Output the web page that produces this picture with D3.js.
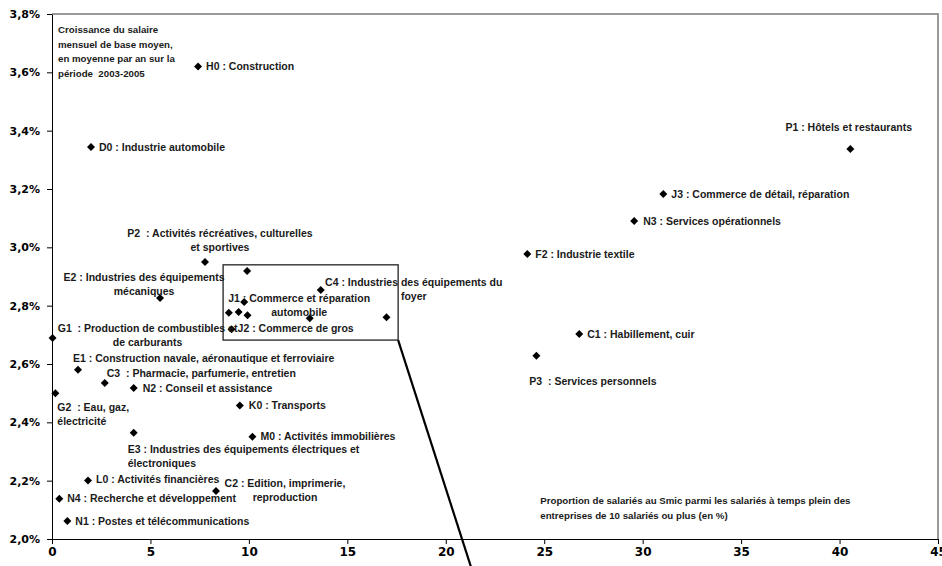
<!DOCTYPE html>
<html>
<head>
<meta charset="utf-8">
<script src="https://cdn.jsdelivr.net/npm/d3@7/dist/d3.min.js"></script>
<style>
body { margin: 0; background: #fff; }
svg text { white-space: pre; }
</style>
</head>
<body>
<div id="main"></div>
<script>
// secteurs : part des salariés au Smic (%) et croissance du salaire mensuel de base (% par an)
var sectorCodes = ["H0", "D0", "P1", "J3", "N3", "F2", "P2", "E2", "C4", "J1", "J2", "G1", "C1", "P3",
    "E1", "C3", "N2", "G2", "K0", "E3", "M0", "L0", "C2", "N4", "N1",
    "", "", "", "", "", ""];
var sectorLabels = [
    "H0 : Construction",
    "D0 : Industrie automobile",
    "P1 : Hôtels et restaurants",
    "J3 : Commerce de détail, réparation",
    "N3 : Services opérationnels",
    "F2 : Industrie textile",
    "P2  : Activités récréatives, culturelles\net sportives",
    "E2 : Industries des équipements\nmécaniques",
    "C4 : Industries des équipements du\nfoyer",
    "J1 : Commerce et réparation\nautomobile",
    "J2 : Commerce de gros",
    "G1  : Production de combustibles et\nde carburants",
    "C1 : Habillement, cuir",
    "P3  : Services personnels",
    "E1 : Construction navale, aéronautique et ferroviaire",
    "C3  : Pharmacie, parfumerie, entretien",
    "N2 : Conseil et assistance",
    "G2  : Eau, gaz,\nélectricité",
    "K0 : Transports",
    "E3 : Industries des équipements électriques et\nélectroniques",
    "M0 : Activités immobilières",
    "L0 : Activités financières",
    "C2 : Edition, imprimerie,\nreproduction",
    "N4 : Recherche et développement",
    "N1 : Postes et télécommunications",
    "", "", "", "", "", ""];
var smicShare = [7.42, 1.98, 40.55, 31.05, 29.57, 24.14, 7.77, 5.49, 13.65, 9.76, 9.12, 0.03, 26.78, 24.6,
    1.32, 2.68, 4.15, 0.17, 9.54, 4.15, 10.18, 1.83, 8.33, 0.37, 0.78,
    9.91, 8.98, 9.48, 9.93, 13.09, 16.99];
var wageGrowth = [3.62, 3.344, 3.337, 3.183, 3.09, 2.977, 2.95, 2.826, 2.854, 2.813, 2.719, 2.689, 2.703, 2.628,
    2.58, 2.535, 2.518, 2.50, 2.458, 2.364, 2.351, 2.201, 2.165, 2.138, 2.062,
    2.919, 2.776, 2.778, 2.767, 2.757, 2.76];

var xTicks = [0, 5, 10, 15, 20, 25, 30, 35, 40, 45];
var yTicks = [2.0, 2.2, 2.4, 2.6, 2.8, 3.0, 3.2, 3.4, 3.6, 3.8];
var yTickLabels = ["2,0%", "2,2%", "2,4%", "2,6%", "2,8%", "3,0%", "3,2%", "3,4%", "3,6%", "3,8%"];

var titleLines = ["Croissance du salaire", "mensuel de base moyen,", "en moyenne par an sur la", "période  2003-2005"];
var xTitleLines = ["Proportion de salariés au Smic parmi les salariés à temps plein des",
    "entreprises de 10 salariés ou plus (en %)"];

// cadre de zoom (en unités des axes) et trait qui en part
var zoomBox = {x0: 8.69, x1: 17.58, y0: 2.682, y1: 2.94};
var zoomLineEnd = {x: 21.3, y: 1.90};

// placement des étiquettes, en pixels par rapport au point
var labelLayout = {
    H0: {anchor: "start", dx: 8, dy: 0},
    D0: {anchor: "start", dx: 8, dy: 0},
    P1: {anchor: "start", dx: -65, dy: -22},
    J3: {anchor: "start", dx: 8, dy: 0},
    N3: {anchor: "start", dx: 9, dy: 0},
    F2: {anchor: "start", dx: 8, dy: 0},
    P2: {anchor: "middle", dx: 15, dy: -29},
    E2: {anchor: "middle", dx: -16, dy: -21},
    C4: {anchor: "middle", dx: 93, dy: -8},
    J1: {anchor: "middle", dx: 55, dy: -4},
    J2: {anchor: "start", dx: 6, dy: -1},
    G1: {anchor: "middle", dx: 95, dy: -10},
    C1: {anchor: "start", dx: 8, dy: 0},
    P3: {anchor: "start", dx: -7, dy: 25},
    E1: {anchor: "start", dx: -5, dy: -12},
    C3: {anchor: "start", dx: 2, dy: -10},
    N2: {anchor: "start", dx: 9, dy: 0},
    G2: {anchor: "start", dx: 2, dy: 14},
    K0: {anchor: "start", dx: 9, dy: 0},
    E3: {anchor: "start", dx: -6, dy: 16},
    M0: {anchor: "start", dx: 8, dy: 0},
    L0: {anchor: "start", dx: 8, dy: -1},
    C2: {anchor: "middle", dx: 69, dy: -8},
    N4: {anchor: "start", dx: 8, dy: 0},
    N1: {anchor: "start", dx: 8, dy: 0}
};

var ctx = {
    w: 942,
    h: 566,
    left: 52,
    right: 938,
    top: 14,
    bottom: 539,
    LABEL_FONT: "'Liberation Sans', Arial, sans-serif",
    TICK_FONT: "'DejaVu Sans', sans-serif",
    LINE_H: 14.5
};

var createViz = function(){
    var svgEl = d3.select("#main").append("svg")
        .attr("width", ctx.w)
        .attr("height", ctx.h);
    ctx.xScale = d3.scaleLinear().domain([0, 45]).range([ctx.left, ctx.right]);
    ctx.yScale = d3.scaleLinear().domain([2.0, 3.8]).range([ctx.bottom, ctx.top]);
    var rootG = svgEl.append("g").attr("id", "rootG");
    drawFrame(rootG);
    drawAxes(rootG);
    drawTexts(rootG);
    drawZoom(rootG);
    drawPoints(rootG);
};

var drawFrame = function(g){
    // bord supérieur et droit gris de la zone de tracé
    g.append("path")
        .attr("d", "M" + ctx.xScale(0) + "," + ctx.yScale(3.8) + "H" + ctx.xScale(45) + "V" + ctx.yScale(2.0))
        .style("fill", "none")
        .style("stroke", "#999")
        .style("stroke-width", 2);
};

var drawAxes = function(g){
    var xAxis = g.append("g")
        .attr("transform", "translate(0," + ctx.yScale(2.0) + ")")
        .call(d3.axisBottom(ctx.xScale).tickValues(xTicks).tickSize(5).tickPadding(3).tickSizeOuter(0));
    xAxis.selectAll("text")
        .style("font-family", ctx.TICK_FONT)
        .style("font-weight", "bold")
        .style("font-size", "12px")
        .style("fill", "#000");
    var yAxis = g.append("g")
        .attr("transform", "translate(" + ctx.xScale(0) + ",0)")
        .call(d3.axisLeft(ctx.yScale).tickValues(yTicks).tickSize(5).tickPadding(7).tickSizeOuter(0)
            .tickFormat(function(d, i){ return yTickLabels[i]; }));
    yAxis.selectAll("text")
        .style("font-family", ctx.TICK_FONT)
        .style("font-weight", "bold")
        .style("font-size", "11px")
        .style("fill", "#000");
    g.selectAll(".domain, .tick line")
        .style("stroke", "#000")
        .style("stroke-width", 1);
};

var addLines = function(sel, lines, x, y, anchor, size){
    var t = sel.append("text")
        .attr("text-anchor", anchor)
        .style("font-family", ctx.LABEL_FONT)
        .style("font-weight", "bold")
        .style("font-size", (size || 10.5) + "px")
        .style("fill", "#1a1a1a");
    lines.forEach(function(line, i){
        t.append("tspan")
            .attr("x", x)
            .attr("y", y + i * ctx.LINE_H)
            .attr("dy", "0.35em")
            .text(line);
    });
    return t;
};

var drawTexts = function(g){
    var tg = g.append("g").attr("id", "titles");
    addLines(tg, titleLines, ctx.xScale(0) + 6, 30, "start", 9.7);
    addLines(tg, xTitleLines, ctx.xScale(24.8), 501, "start", 9.7);
};

var drawZoom = function(g){
    var zg = g.append("g").attr("id", "zoomG");
    zg.append("rect")
        .attr("x", ctx.xScale(zoomBox.x0))
        .attr("y", ctx.yScale(zoomBox.y1))
        .attr("width", ctx.xScale(zoomBox.x1) - ctx.xScale(zoomBox.x0))
        .attr("height", ctx.yScale(zoomBox.y0) - ctx.yScale(zoomBox.y1))
        .style("fill", "none")
        .style("stroke", "#222")
        .style("stroke-width", 1.3);
    zg.append("line")
        .attr("x1", ctx.xScale(zoomBox.x1))
        .attr("y1", ctx.yScale(zoomBox.y0))
        .attr("x2", ctx.xScale(zoomLineEnd.x))
        .attr("y2", ctx.yScale(zoomLineEnd.y))
        .style("stroke", "#000")
        .style("stroke-width", 2.2);
};

var drawPoints = function(g){
    var pts = sectorCodes.map(function(c, i){
        return {code: c, label: sectorLabels[i], x: smicShare[i], y: wageGrowth[i]};
    });
    var pg = g.append("g").attr("id", "pointsG");
    pg.selectAll("path")
        .data(pts)
        .enter()
        .append("path")
        .attr("d", d3.symbol().type(d3.symbolSquare).size(32))
        .attr("transform", function(d){
            return "translate(" + ctx.xScale(d.x) + "," + ctx.yScale(d.y) + ") rotate(45)";
        })
        .style("fill", "#000");
    var lg = g.append("g").attr("id", "labelsG");
    pts.forEach(function(d){
        if (!d.code) {return;}
        var lay = labelLayout[d.code];
        addLines(lg, d.label.split("\n"), ctx.xScale(d.x) + lay.dx, ctx.yScale(d.y) + lay.dy, lay.anchor);
    });
};

createViz();
</script>
</body>
</html>
